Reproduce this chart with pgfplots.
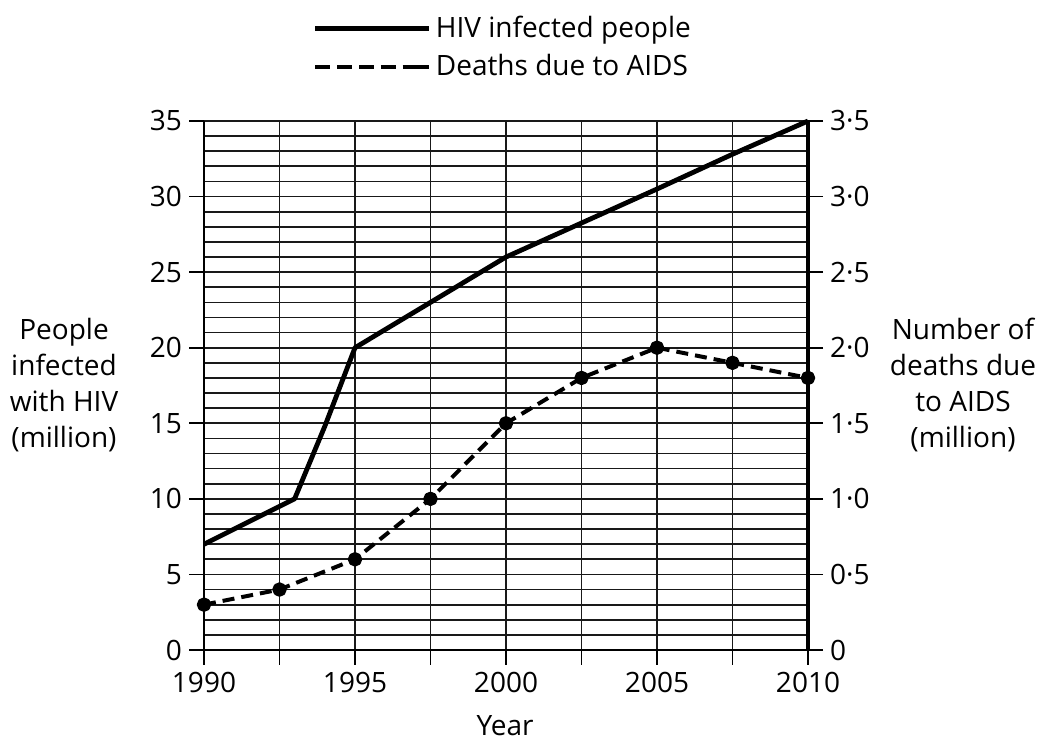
\documentclass[border=0pt]{standalone}
\usepackage{fontspec}
\setmainfont{Open Sans}
\usepackage{pgfplots}
\pgfplotsset{compat=1.18}

\pgfplotstableread{
year  hiv
1990  7
1993  10
1994  14.8
1995  20
1997.5 23
2000  26
2002.5 28.25
2005  30.5
2007.5 32.8
2010  35
}\hivdata

\pgfplotstableread{
year  deaths
1990  0.3
1992.5 0.4
1995  0.6
1997.5 1.0
2000  1.5
2002.5 1.8
2005  2.0
2007.5 1.9
2010  1.8
}\deathdata

\newcommand\lbl{\fontsize{14}{18}\selectfont}

\begin{document}
\begin{tikzpicture}[font=\lbl]
  \useasboundingbox (0,0) rectangle (519pt,371pt);
  \pgfplotsset{
    common/.style={
      at={(102pt,46pt)}, anchor=south west,
      scale only axis, width=302pt, height=264.5pt,
      xmin=1990, xmax=2010, clip=false,
      tick label style={font=\lbl},
      tick style={black, line width=0.8pt},
      major tick length=7.5pt, minor tick length=0pt,
    },
  }
  \begin{axis}[common,
      ymin=0, ymax=35,
      axis x line*=bottom, axis y line*=left,
      xtick align=outside, ytick align=outside,
      axis line style={black, line width=0.85pt},
      xtick={1990,1992.5,1995,1997.5,2000,2002.5,2005,2007.5,2010},
      xticklabels={1990,,1995,,2000,,2005,,2010},
      ytick={0,5,...,35},
      yticklabels={0,5,10,15,20,25,30,35},
      minor ytick={0,1,...,35},
      grid=both,
      major grid style={black!90, line width=0.85pt},
      minor grid style={black!90, line width=0.85pt},
      legend style={at={(axis description cs:0.170,1.064)}, anchor=south west,
        draw=none, fill=none, font=\lbl, row sep=3pt,
        legend cell align=left},
      legend image code/.code={\draw[#1] (0pt,0pt) -- (51pt,0pt); \path (51pt,0pt) -- (57pt,0pt);},
    ]
    \addplot[black, line width=2.4pt, line join=round] table[x=year, y=hiv] {\hivdata};
    \addlegendentry{HIV infected people}
    \addlegendimage{black, line width=1.9pt, dash pattern=on 7.5pt off 3.4pt}
    \addlegendentry{Deaths due to AIDS}
  \end{axis}
  \begin{axis}[common,
      ymin=0, ymax=3.5,
      axis x line=none, axis y line*=right,
      ytick align=outside,
      y axis line style={black, line width=1.6pt},
      ytick={0,0.5,1,1.5,2,2.5,3,3.5},
      yticklabels={0,0·5,1·0,1·5,2·0,2·5,3·0,3·5},
    ]
    \addplot[black, line width=2pt, dash pattern=on 6pt off 3.5pt, line join=round,
      mark=*, mark size=2.6pt, mark options={solid}] table[x=year, y=deaths] {\deathdata};
  \end{axis}
  \node[align=center, font=\lbl] at (32pt,178.5pt) {People\\infected\\with HIV\\(million)};
  \node[align=center, font=\lbl] at (481.5pt,178.5pt) {Number of\\deaths due\\to AIDS\\(million)};
  \node[font=\lbl, anchor=base, inner sep=0pt] at (252.5pt,3pt) {Year};
\end{tikzpicture}
\end{document}
